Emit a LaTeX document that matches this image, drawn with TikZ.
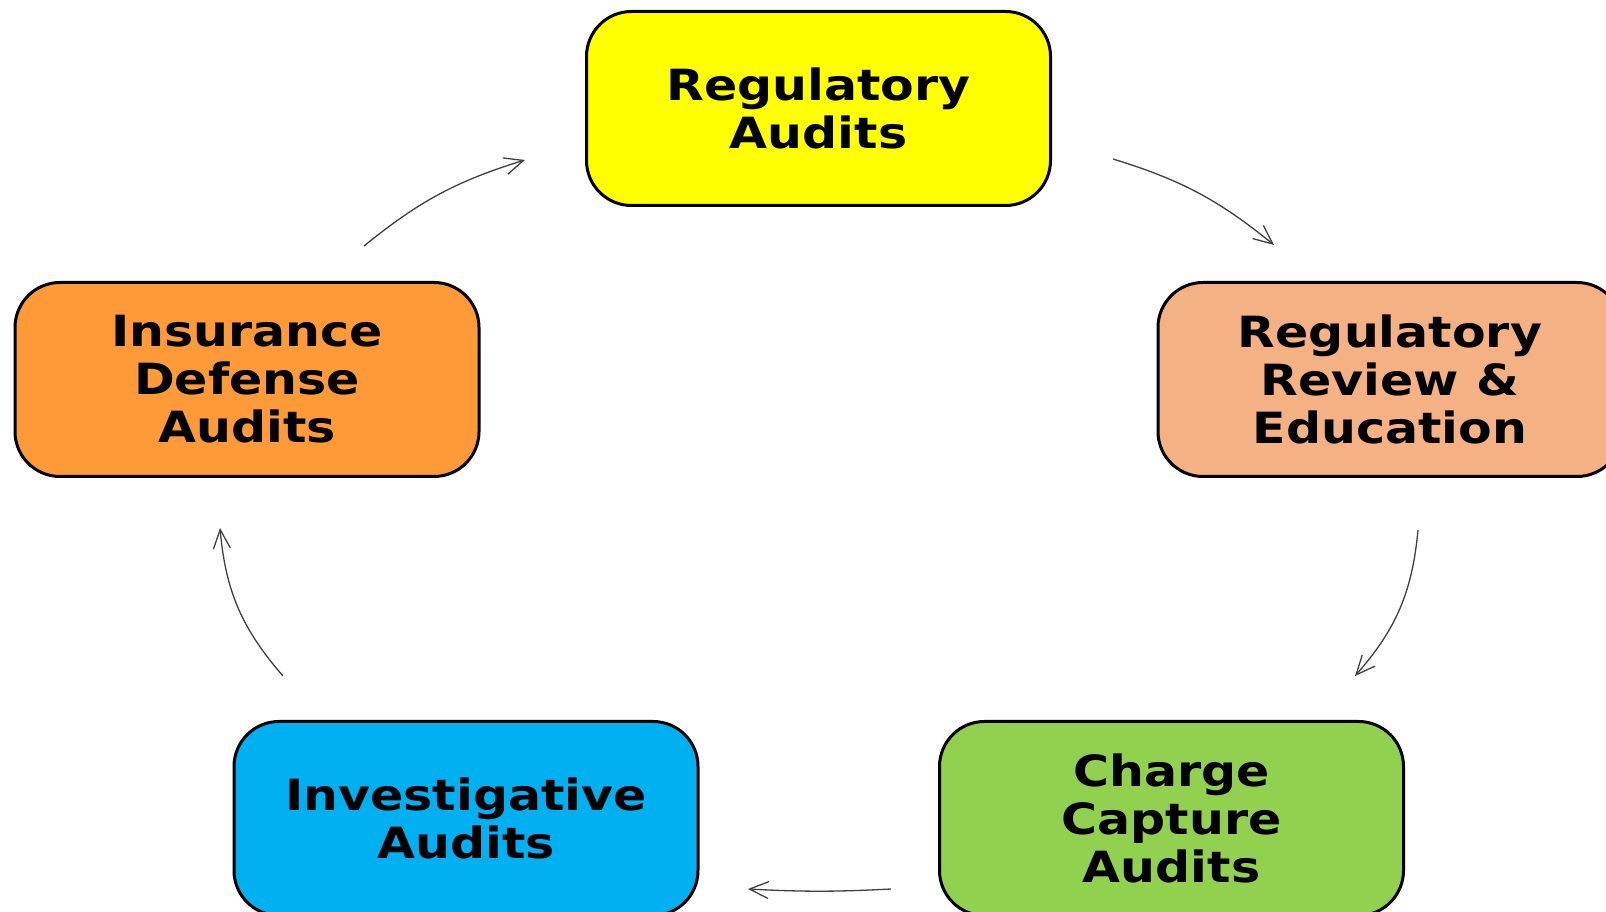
\documentclass[tikz,border=0pt]{standalone}
\usepackage{fontspec}
\newfontfamily\boxfont{DejaVu Sans}[FakeStretch=1.14]
\usetikzlibrary{arrows.meta}
\definecolor{stageYellow}{HTML}{FFFF00}
\definecolor{stagePeach}{HTML}{F4B183}
\definecolor{stageOrange}{HTML}{FF9A38}
\definecolor{stageBlue}{HTML}{00B0F0}
\definecolor{stageGreen}{HTML}{92D050}
\definecolor{arrowGray}{HTML}{404040}
\begin{document}
\begin{tikzpicture}[x=1pt,y=1pt,
  stage/.style={draw=black, line width=3pt, rounded corners=45pt,
    minimum width=464pt, minimum height=194pt, inner sep=0pt,
    align=center, font=\boxfont\bfseries\fontsize{43}{48}\selectfont},
  cyclearrow/.style={draw=arrowGray, line width=1.3pt,
    -{Straight Barb[length=19pt,width=17pt,line width=1.3pt]}}]
\useasboundingbox (0,0) rectangle (1606,912);
\clip (0,0) rectangle (1606,912);
\fill[white] (0,0) rectangle (1606,912);

% the five stages of the cycle
\node[stage, fill=stageYellow] (reg)  at (818.5,803.5) {Regulatory\\Audits};
\node[stage, fill=stagePeach]  (rev)  at (1390,532.5)  {Regulatory\\Review \&\\Education};
\node[stage, fill=stageGreen]  (chg)  at (1171.5,93.5) {Charge\\Capture\\Audits};
\node[stage, fill=stageBlue]   (inv)  at (466,93.5)    {Investigative\\Audits};
\node[stage, fill=stageOrange] (ins)  at (247,532.5)   {Insurance\\Defense\\Audits};

% end points of the curved connectors between stages
\coordinate (a1s) at (1113,753); \coordinate (a1e) at (1274,667);
\coordinate (a2s) at (1418,382); \coordinate (a2e) at (1355,236);
\coordinate (a3s) at (891,23);   \coordinate (a3e) at (748,23);
\coordinate (a4s) at (283,236);  \coordinate (a4e) at (220,384);
\coordinate (a5s) at (364,666);  \coordinate (a5e) at (525,752);

\draw[cyclearrow] (a1s) to[bend left=11] (a1e);
\draw[cyclearrow] (a2s) to[bend left=18] (a2e);
\draw[cyclearrow] (a3s) to[bend left=3]  (a3e);
\draw[cyclearrow] (a4s) to[bend left=18] (a4e);
\draw[cyclearrow] (a5s) to[bend left=11] (a5e);
\end{tikzpicture}
\end{document}
